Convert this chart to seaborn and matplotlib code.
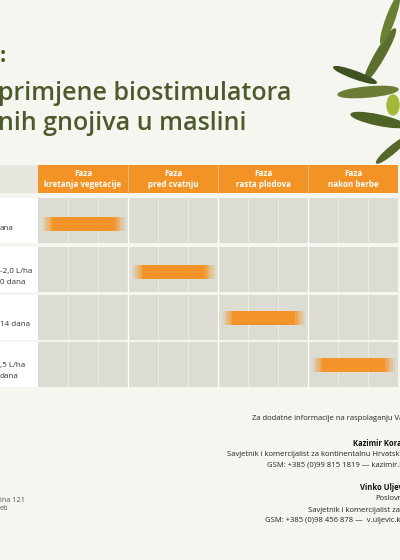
import numpy as np
import matplotlib.pyplot as plt
import seaborn as sns
from matplotlib.patches import Rectangle, Ellipse

# ---------------- data ----------------
phase_names = ["Faza\nkretanja vegetacije", "Faza\npred cvatnju", "Faza\nrasta plodova", "Faza\nnakon berbe"]
row_labels = [["ana"], ["-2,0 L/ha", "0 dana"], ["14 dana"], [",5 L/ha", "dana"]]
bar_phase = [0, 1, 2, 3]        # phase in which each product is applied
bar_start = [0.05, 0.05, 0.05, 0.05]  # start within the phase (fraction)
bar_len = [0.92, 0.92, 0.92, 0.92]    # length within the phase (fraction)

BG = "#f6f6f1"
ORANGE = "#f39325"
CELL = "#dcdcd2"
OLIVE = "#4d5a2c"

sns.set_theme(style="white")
plt.rcParams['font.family'] = ['Open Sans', 'DejaVu Sans']

fig = plt.figure(figsize=(4, 5.6), dpi=100, facecolor=BG)
ax = fig.add_axes([0, 0, 1, 1])
ax.set_xlim(0, 400)
ax.set_ylim(560, 0)
ax.axis("off")
ax.set_facecolor(BG)

# title
ax.text(0, 56, ":", fontsize=16, fontweight="bold", color=OLIVE, va="center")
ax.text(-2, 94, "primjene biostimulatora", fontsize=18, fontweight="semibold", color=OLIVE, va="center")
ax.text(-2, 123, "nih gnojiva u maslini", fontsize=18, fontweight="semibold", color=OLIVE, va="center")

# olive leaves (decoration)
for cx, cy, w, h, a, c in [(380, 55, 60, 9, 60, "#5b6e2e"), (368, 92, 60, 10, 5, "#6b7d35"),
                           (378, 120, 55, 10, -12, "#4f6228"), (390, 20, 50, 8, 70, "#6a7f34"),
                           (393, 105, 12, 20, 0, "#a6b83a"), (392, 150, 40, 7, 40, "#55682b"),
                           (355, 75, 45, 7, -20, "#3f5222")]:
    ax.add_patch(Ellipse((cx, cy), w, h, angle=-a, color=c, zorder=2))

# table geometry
x0, pw = 38, 90
head_top, head_bot = 165, 193
rows_top = [198, 247, 295, 342]
row_h = 45

ax.add_patch(Rectangle((0, head_top), x0, head_bot - head_top, color="#e6e6df", lw=0))
for i, name in enumerate(phase_names):
    ax.add_patch(Rectangle((x0 + i * pw, head_top), pw, head_bot - head_top, color=ORANGE, lw=0))
    ax.text(x0 + i * pw + pw / 2, (head_top + head_bot) / 2, name, ha="center", va="center",
            fontsize=5.8, fontweight="bold", color="white", linespacing=1.25)
    if i > 0:
        ax.plot([x0 + i * pw] * 2, [head_top, head_bot], color="#f7b56a", lw=0.8)

for r, top in enumerate(rows_top):
    ax.add_patch(Rectangle((0, top), x0, row_h, color="white", lw=0))
    ax.add_patch(Rectangle((x0, top), 4 * pw, row_h, color=CELL, lw=0))
    for k in range(1, 12):
        col = "white" if k % 3 == 0 else "#ecece6"
        ax.plot([x0 + k * pw / 3] * 2, [top, top + row_h], color=col, lw=0.7 if k % 3 else 1.0)
    lines = row_labels[r]
    ys = [top + 30] if len(lines) == 1 else [top + 24, top + 35]
    for t, yy in zip(lines, ys):
        ax.text(0, yy, t, fontsize=5.8, color="#333333", va="center")

# application bars with soft edges
bar_y = [224, 272, 318, 365]
for r, (p, s, l) in enumerate(zip(bar_phase, bar_start, bar_len)):
    left = x0 + p * pw + s * pw
    width = l * pw
    for f, a in [(0.0, 0.15), (0.03, 0.2), (0.06, 0.3), (0.09, 0.45), (0.12, 0.9)]:
        ax.barh(bar_y[r], width * (1 - 2 * f), left=left + width * f, height=14,
                color=ORANGE, alpha=a, lw=0, zorder=3)

# footer
fs = 5.5
ax.text(252, 418, "Za dodatne informacije na raspolaganju Va", fontsize=fs, color="#222222", va="center")
ax.text(353, 443, "Kazimir Kora", fontsize=fs, fontweight="bold", color="#111111", va="center")
ax.text(227, 455, "Savjetnik i komercijalist za kontinentalnu Hrvatsku", fontsize=fs, color="#222222", va="center")
ax.text(267, 465, "GSM: +385 (0)99 815 1819 — kazimir.ko", fontsize=fs, color="#222222", va="center")
ax.text(360, 487, "Vinko Uljev", fontsize=fs, fontweight="bold", color="#111111", va="center")
ax.text(375, 499, "Poslovn", fontsize=fs, color="#222222", va="center")
ax.text(308, 510, "Savjetnik i komercijalist za", fontsize=fs, color="#222222", va="center")
ax.text(265, 521, "GSM: +385 (0)98 456 878 —  v.uljevic.kad", fontsize=fs, color="#222222", va="center")
ax.text(0, 500, "ina 121", fontsize=5.2, color="#555555", va="center")
ax.text(0, 509, "eb", fontsize=5.2, color="#555555", va="center")

fig.savefig("out.png", dpi=100, facecolor=BG)
